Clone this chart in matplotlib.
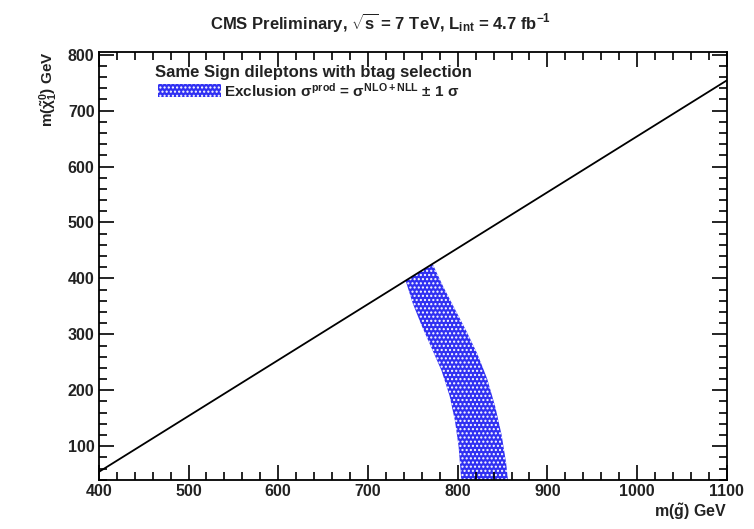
import numpy as np
import matplotlib
matplotlib.use("Agg")
import matplotlib.pyplot as plt
from matplotlib.patches import Polygon, Rectangle
from matplotlib.ticker import MultipleLocator

plt.rcParams['font.family'] = ['Liberation Sans', 'DejaVu Sans']
plt.rcParams['mathtext.fontset'] = 'custom'
plt.rcParams['mathtext.rm'] = 'Liberation Sans:bold'
plt.rcParams['mathtext.it'] = 'Liberation Sans:bold'
plt.rcParams['hatch.linewidth'] = 1.0
plt.rcParams['hatch.color'] = 'white'

# exclusion band edges (gluino mass, neutralino mass)
left_gluino = [742, 750, 760, 771, 782, 791, 797, 801, 803, 804]
left_lsp = [396, 355, 315, 275, 235, 190, 145, 100, 60, 40]
right_gluino = [772, 784, 797, 810, 822, 833, 842, 849, 854, 856]
right_lsp = [426, 385, 345, 305, 265, 220, 170, 120, 70, 40]

# kinematic limit m(gluino) = m(LSP) + 2 m(top)
mass_gap = 346
x_range = [400, 1100]

band_color = '#3030f2'
text_color = '#222222'

fig = plt.figure(figsize=(7.54, 5.29), dpi=100)
ax = fig.add_axes([0.131, 0.093, 0.833, 0.809])

band_x = right_gluino[::-1] + left_gluino
band_y = right_lsp[::-1] + left_lsp
band = Polygon(np.column_stack([band_x, band_y]), closed=True,
               facecolor=band_color, edgecolor='white', hatch='....', lw=0)
ax.add_patch(band)

ax.plot(x_range, [x - mass_gap for x in x_range], color='black', lw=1.3)

ax.set_xlim(400, 1100)
ax.set_ylim(40, 805)
ax.xaxis.set_major_locator(MultipleLocator(100))
ax.xaxis.set_minor_locator(MultipleLocator(20))
ax.yaxis.set_major_locator(MultipleLocator(100))
ax.yaxis.set_minor_locator(MultipleLocator(20))
ax.tick_params(which='both', direction='in', top=True, right=True, width=1.2)
ax.tick_params(which='major', length=11, labelsize=11.5, pad=3, labelcolor=text_color)
ax.tick_params(which='minor', length=5.5)
for lab in ax.get_xticklabels() + ax.get_yticklabels():
    lab.set_fontweight('bold')
for s in ax.spines.values():
    s.set_linewidth(1.3)

fig.text(0.505, 0.958, r'CMS Preliminary, $\sqrt{s}$ = 7 TeV, L$_{\mathrm{int}}$ = 4.7 fb$^{-1}$',
         ha='center', va='center', fontsize=12, fontweight='bold', color=text_color)

ax.text(0.09, 0.952, 'Same Sign dileptons with btag selection', transform=ax.transAxes,
        ha='left', va='center', fontsize=12, fontweight='bold', color=text_color)

ax.add_patch(Rectangle((0.095, 0.895), 0.1, 0.03, transform=ax.transAxes,
                       facecolor=band_color, edgecolor='white', hatch='....', lw=0))
ax.text(0.2, 0.91, r'Exclusion $\sigma^{\mathrm{prod}}$ = $\sigma^{\mathrm{NLO+NLL}}$ $\pm$ 1 $\sigma$',
        transform=ax.transAxes, ha='left', va='center', fontsize=11, fontweight='bold',
        color=text_color)

ax.set_xlabel(r'm($\tilde{\mathrm{g}}$) GeV', fontsize=11.5, fontweight='bold', loc='right',
              color=text_color, labelpad=2)
ax.set_ylabel(r'm($\tilde{\chi}^{0}_{1}$) GeV', fontsize=11, fontweight='bold', loc='top',
              color=text_color, labelpad=6)

fig.savefig('out.png', dpi=100)
